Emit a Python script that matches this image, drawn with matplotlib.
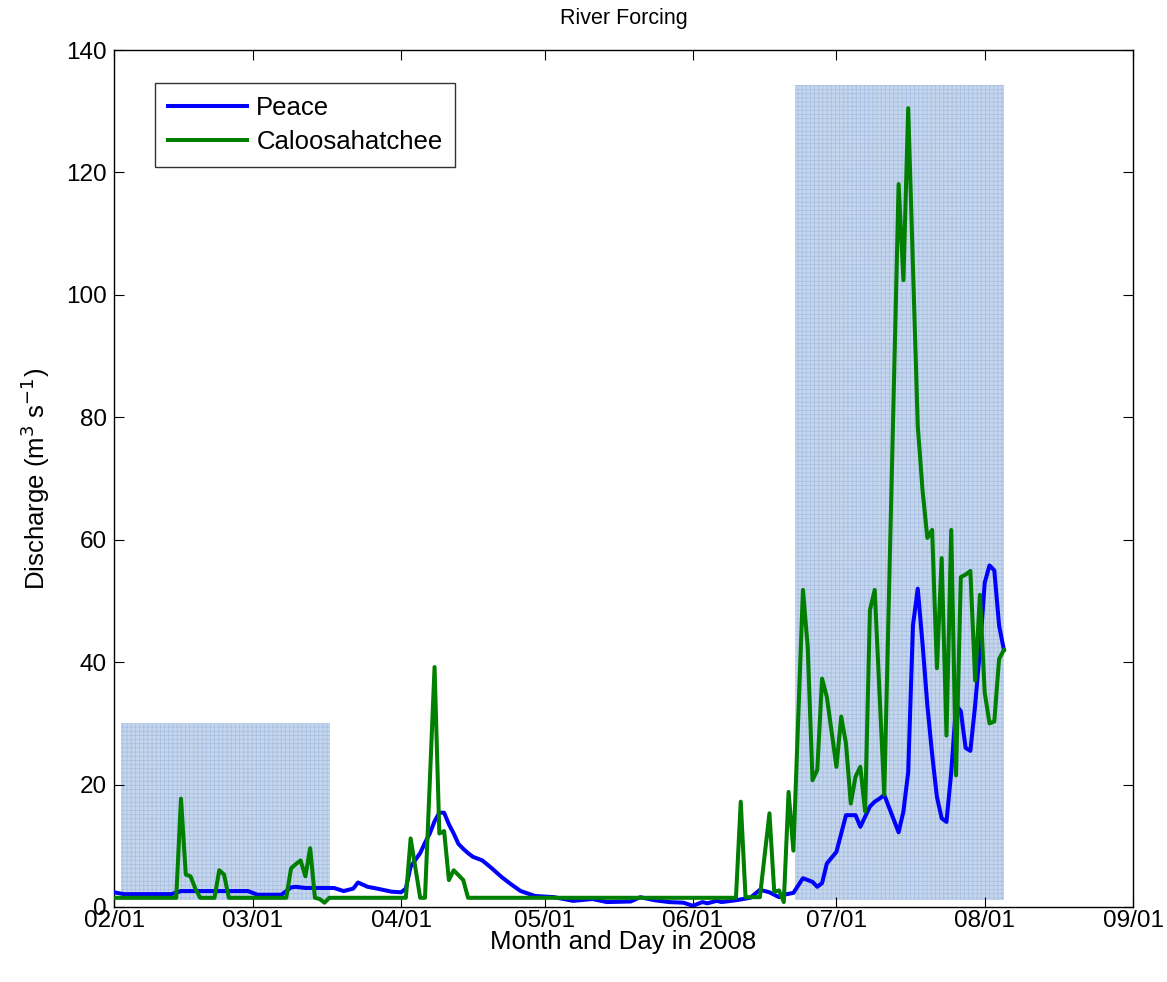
import matplotlib
matplotlib.use("Agg")
import matplotlib.pyplot as plt
import matplotlib.dates as mdates
import pandas as pd

plt.rcParams["font.family"] = ["Liberation Sans", "DejaVu Sans"]
plt.rcParams["hatch.linewidth"] = 0.6

START = "2008-02-01"

# Peace River discharge (day offset from Feb 1, m^3/s)
peace_days = [0, 2, 12, 14, 28, 30, 35, 37, 38, 40, 46, 48, 50, 51, 53, 55, 58, 60,
              61, 62, 64, 65, 66, 67, 68, 69, 70, 71, 72, 73, 74, 75, 77, 79, 81, 83,
              85, 88, 92, 96, 100, 103, 108, 110, 113, 116, 119, 121, 123, 124, 126,
              127, 130, 133, 135, 137, 139, 140, 142, 144, 146, 147, 148, 149, 151,
              152, 153, 155, 156, 158, 159, 160, 161, 164, 165, 166, 167, 168, 169,
              170, 171, 172, 173, 174, 175, 176, 177, 178, 179, 180, 181, 182, 183,
              184, 185, 186]
peace_flow = [2.4, 2.1, 2.1, 2.6, 2.6, 2.0, 2.0, 3.2, 3.3, 3.1, 3.1, 2.6, 3.0, 4.0,
              3.3, 3.0, 2.5, 2.4, 3.0, 6.6, 8.8, 10.5, 12.0, 14.0, 15.4, 15.4, 13.5,
              12.0, 10.3, 9.5, 8.8, 8.2, 7.6, 6.3, 4.9, 3.7, 2.6, 1.8, 1.6, 1.0, 1.3,
              0.8, 0.9, 1.6, 1.1, 0.8, 0.7, 0.2, 0.8, 0.6, 1.0, 0.8, 1.1, 1.5, 2.8,
              2.4, 1.6, 2.0, 2.3, 4.7, 4.1, 3.3, 3.9, 7.1, 9.0, 12.0, 15.0, 15.0,
              13.1, 16.4, 17.2, 17.7, 18.3, 12.2, 15.6, 22.0, 46.0, 52.0, 43.0, 33.0,
              25.0, 18.0, 14.5, 13.9, 22.0, 33.0, 32.0, 26.0, 25.5, 33.0, 42.0, 53.0,
              55.8, 55.0, 46.0, 42.0]

# Caloosahatchee River discharge (day offset from Feb 1, m^3/s)
caloo_days = [0, 13, 14, 15, 16, 17, 18, 21, 22, 23, 24, 36, 37, 38, 39, 40, 41, 42,
              43, 44, 45, 61, 62, 64, 65, 67, 68, 69, 70, 71, 73, 74, 130, 131, 132,
              135, 137, 138, 139, 140, 141, 142, 144, 145, 146, 147, 148, 149, 151,
              152, 153, 154, 155, 156, 157, 158, 159, 161, 164, 165, 166, 168, 169,
              170, 171, 172, 173, 174, 175, 176, 177, 178, 179, 180, 181, 182, 183,
              184, 185, 186]
caloo_flow = [1.5, 1.5, 17.7, 5.3, 5.0, 3.0, 1.5, 1.5, 6.0, 5.3, 1.5, 1.5, 6.3, 7.0,
              7.6, 5.0, 9.6, 1.5, 1.3, 0.7, 1.5, 1.5, 11.2, 1.5, 1.5, 39.2, 12.0, 12.4,
              4.4, 6.0, 4.4, 1.5, 1.5, 17.2, 1.6, 1.6, 15.3, 2.5, 2.7, 0.8, 18.8, 9.2,
              51.8, 42.5, 20.7, 22.4, 37.3, 34.3, 22.9, 31.1, 26.7, 16.9, 21.3, 22.9,
              15.6, 48.5, 51.8, 18.3, 118.1, 102.4, 130.5, 78.6, 68.1, 60.3, 61.6,
              39.0, 57.0, 28.0, 61.6, 21.5, 53.9, 54.3, 54.9, 37.0, 51.0, 35.0, 30.0,
              30.3, 40.5, 42.0]

# Highlighted periods: (start day, end day, lower, upper)
span_start = [1.4, 142.3]
span_end = [45.1, 186.0]
span_low = [1.1, 1.1]
span_high = [30.0, 134.3]

tick_labels = ["02/01", "03/01", "04/01", "05/01", "06/01", "07/01", "08/01", "09/01"]

t0 = pd.Timestamp(START)
def to_dates(days):
    return [t0 + pd.Timedelta(days=float(d)) for d in days]

fig = plt.figure(figsize=(11.67, 9.82), dpi=100)
ax = fig.add_axes([0.0977, 0.0764, 0.8732, 0.8726])

for s, e, lo, hi in zip(span_start, span_end, span_low, span_high):
    d0, d1 = mdates.date2num(to_dates([s, e]))
    ax.fill_between([d0, d1], [lo, lo], [hi, hi], facecolor="#c6d6ed",
                    edgecolor="#a9c1e3", hatch="++++", linewidth=0, zorder=1)

ax.plot(to_dates(peace_days), peace_flow, color="#0000ff", lw=2.9,
        label="Peace", zorder=3)
ax.plot(to_dates(caloo_days), caloo_flow, color="#007f00", lw=2.9,
        label="Caloosahatchee", zorder=4)

tick_dates = [pd.Timestamp(f"2008-{lbl[:2]}-{lbl[3:]}") for lbl in tick_labels]
ax.set_xticks(mdates.date2num(tick_dates))
ax.set_xticklabels(tick_labels)
ax.set_xlim(mdates.date2num(tick_dates[0]), mdates.date2num(tick_dates[-1]))
ax.set_ylim(0, 140)
ax.set_yticks(range(0, 141, 20))

ax.tick_params(direction="in", length=7, width=0.8, top=True, right=True,
               labelsize=17.5, colors="black")
ax.tick_params(axis="x", pad=2)
ax.tick_params(axis="y", pad=5)
for sp in ax.spines.values():
    sp.set_linewidth(1.0)

ax.set_title("River Forcing", fontsize=15.5, pad=19)
ax.set_xlabel("Month and Day in 2008", fontsize=18.5, labelpad=-1)
ax.set_ylabel("Discharge (m$^{3}$ s$^{-1}$)", fontsize=18.5, labelpad=10)

leg = ax.legend(loc="upper left", bbox_to_anchor=(0.04, 0.9615), fontsize=18.5,
                frameon=True, fancybox=False, edgecolor="black",
                borderaxespad=0, handlelength=3.1, handletextpad=0.35,
                borderpad=0.5, labelspacing=0.4)
leg.get_frame().set_linewidth(1.0)

fig.savefig("out.png", dpi=100)
